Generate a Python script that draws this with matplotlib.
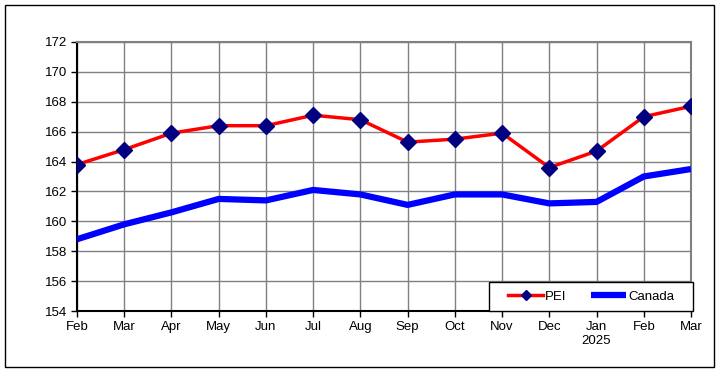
import matplotlib
matplotlib.use("Agg")
import matplotlib.pyplot as plt
from matplotlib.patches import Rectangle

months = ["Feb", "Mar", "Apr", "May", "Jun", "Jul", "Aug", "Sep", "Oct", "Nov", "Dec", "Jan\n2025", "Feb", "Mar"]
pei = [163.8, 164.8, 165.9, 166.4, 166.4, 167.1, 166.8, 165.3, 165.5, 165.9, 163.6, 164.7, 167.0, 167.7]
canada = [158.8, 159.8, 160.6, 161.5, 161.4, 162.1, 161.8, 161.1, 161.8, 161.8, 161.2, 161.3, 163.0, 163.5]
yticks = list(range(154, 173, 2))

plt.rcParams['font.family'] = ['Liberation Sans', 'DejaVu Sans']

fig = plt.figure(figsize=(7.23, 3.74), dpi=100)
ax = fig.add_axes([77/723, 1-311/374, 614/723, 269/374])

x = list(range(len(months)))
ax.plot(x, pei, color="#FF0000", lw=2.5, marker="D", markersize=8.5,
        markerfacecolor="#000080", markeredgecolor="#000080", label="PEI", zorder=4)
ax.plot(x, canada, color="#0000FF", lw=4.5, label="Canada", zorder=3, solid_capstyle="butt")

ax.set_xlim(0, len(months)-1)
ax.set_ylim(154, 172)
ax.set_yticks(yticks)
ax.set_yticklabels([str(v) for v in yticks], fontsize=9.5)
ax.set_xticks(x)
ax.set_xticklabels(months, fontsize=9.5)
ax.grid(True, color="#808080", lw=1)
ax.set_axisbelow(True)
ax.tick_params(direction="out", length=4, width=1, color="black", pad=3)
for s in ["top", "right"]:
    ax.spines[s].set_color("#808080")
    ax.spines[s].set_linewidth(1.5)
for s in ["left", "bottom"]:
    ax.spines[s].set_color("black")
    ax.spines[s].set_linewidth(1.5)

# legend box region (axes coords)
bx, bw, bh = 412/614, 204/614, 29/269
ax.add_patch(Rectangle((bx, 0), bw, bh, transform=ax.transAxes, facecolor="white",
                       edgecolor="black", lw=1, zorder=5, clip_on=False))
leg = ax.legend(loc="center", ncol=2, frameon=False,
                fontsize=9.5, handlelength=2.7,
                columnspacing=1.8, borderpad=0, handletextpad=0.15,
                bbox_to_anchor=(bx + bw/2, bh/2))
leg.set_zorder(6)
for h in leg.legend_handles:
    if h.get_label() == "PEI":
        h.set_markersize(5)

fig.patches.append(Rectangle((5/723, 1-367/374), 709/723, 362/374, transform=fig.transFigure,
                             fill=False, edgecolor="black", lw=1))

fig.savefig("out.png", dpi=100)
